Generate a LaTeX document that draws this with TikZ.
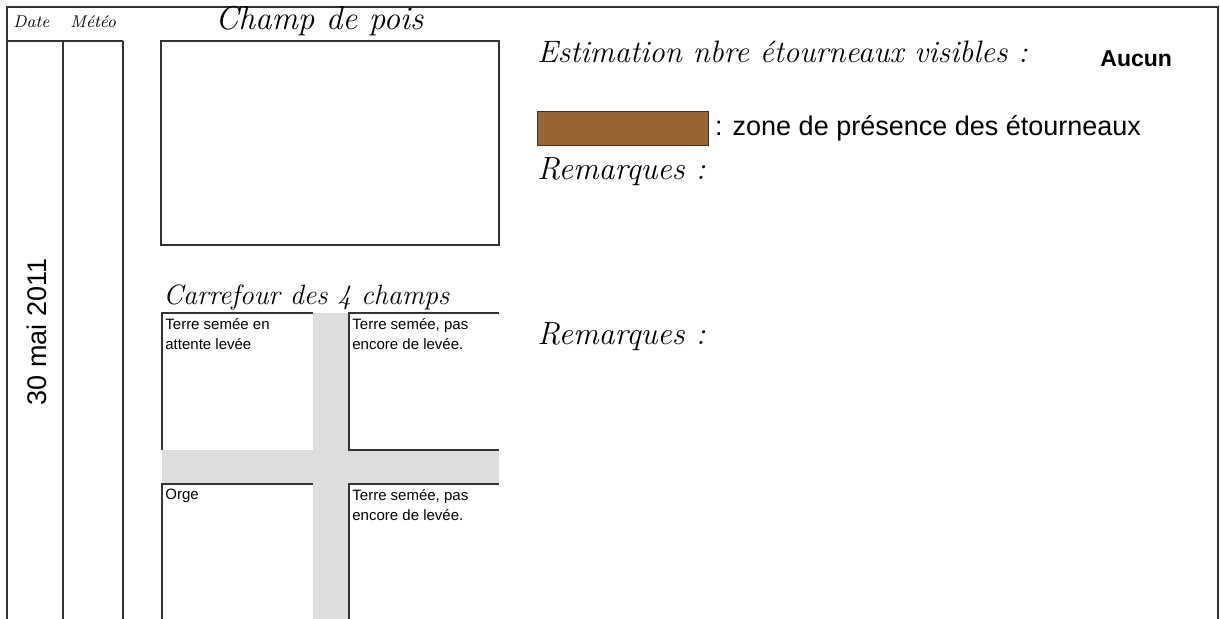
\documentclass[tikz,border=0pt]{standalone}
\usepackage{fontspec}
\newfontfamily\arialfont{Liberation Sans}
\usetikzlibrary{positioning}
\definecolor{formline}{HTML}{333333}
\definecolor{lanegray}{HTML}{DDDDDD}
\definecolor{starlingbrown}{HTML}{996633}

\begin{document}
\begin{tikzpicture}[
    x=0.5pt, y=-0.5pt,
    frame/.style={draw=formline, line width=0.8pt},
    lane/.style={fill=lanegray, draw=none},
    hand/.style={inner sep=0pt, anchor=base west, font=\itshape\fontsize{15.5}{18}\selectfont},
    cell/.style={inner sep=0pt, anchor=north west, align=left, font=\arialfont\fontsize{7.5}{10}\selectfont},
    sans/.style={inner sep=0pt, font=\arialfont\fontsize{13.5}{16}\selectfont}
]
\useasboundingbox (0,0) rectangle (1220,619);

% sheet frame and columns
\draw [frame] (7,619) -- (7,7) -- (1218,7) -- (1218,619);
\draw [frame] (7,41) -- (123,41);
\draw [frame] (63,41) -- (63,619);
\draw [frame] (123,41) -- (123,619);
\node [hand, font=\itshape\fontsize{8.5}{10}\selectfont] (date) at (13,28) {Date};
\node [hand, font=\itshape\fontsize{8.5}{10}\selectfont] (meteo) at (70,28) {Météo};
\node [sans, rotate=90] (day) at (37,332) {30 mai 2011};

% champ de pois
\node [hand, font=\itshape\fontsize{16.5}{18}\selectfont] (pois) at (215,30) {Champ de pois};
\draw [frame] (161,41) rectangle (499,245);

% carrefour
\node [hand, font=\itshape\fontsize{14}{18}\selectfont] (carrefour) at (163,305) {Carrefour des 4 champs};
\fill [lane] (313,313) rectangle (349,619);
\fill [lane] (162,450) rectangle (499,484);
\draw [frame] (162,450) -- (162,313) -- (313,313);
\draw [frame] (499,313) -- (349,313) -- (349,450) -- (499,450);
\draw [frame] (162,619) -- (162,484) -- (313,484);
\draw [frame] (499,484) -- (349,484) -- (349,619);
\node [cell] (nw) at (165,318) {Terre semée en\\attente levée};
\node [cell] (ne) at (352,318) {Terre semée, pas\\encore de levée.};
\node [cell] (sw) at (165,489) {Orge};
\node [cell] (se) at (352,489) {Terre semée, pas\\encore de levée.};

% observations
\node [hand] (estim) at (537,63) {Estimation nbre étourneaux visibles :};
\node [sans, anchor=base west, font=\arialfont\bfseries\fontsize{11.5}{14}\selectfont] (aucun) at (1100,67) {Aucun};
\node [draw=formline, fill=starlingbrown, minimum width=85.5pt, minimum height=17pt, inner sep=0pt, anchor=north west] (legend) at (537,111) {};
\node [sans, right=3pt of legend] (legendtext) {: zone de présence des étourneaux};
\node [hand, font=\itshape\fontsize{16}{18}\selectfont] (rem1) at (537,180) {Remarques :};
\node [hand, font=\itshape\fontsize{16}{18}\selectfont] (rem2) at (537,345) {Remarques :};

\end{tikzpicture}
\end{document}
